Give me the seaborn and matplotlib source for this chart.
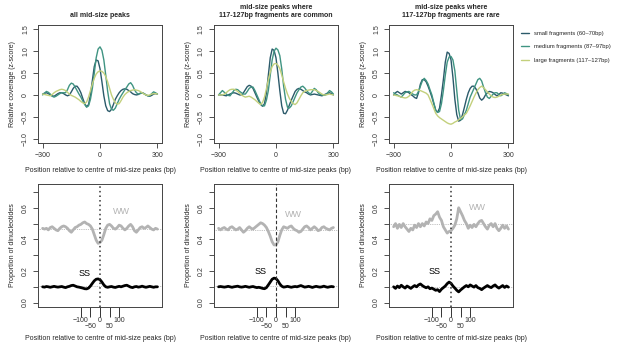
import numpy as np
import matplotlib
matplotlib.use("Agg")
import matplotlib.pyplot as plt
import seaborn as sns

# positions (bp), 10bp steps
pos = list(range(-300, 301, 10))

titles = ["all mid-size peaks",
          "mid-size peaks where\n117-127bp fragments are common",
          "mid-size peaks where\n117-127bp fragments are rare"]
legend_labels = ["small fragments (60\u201370bp)",
                 "medium fragments (87\u201397bp)",
                 "large fragments (117\u2013127bp)"]

# coverage, all mid-size peaks
all_small = [0.02, 0.04, 0.05, 0.03, 0.0, -0.02, -0.03, 0.0, 0.03, 0.05,
             0.05, 0.03, 0.0, -0.02, 0.0, 0.07, 0.15, 0.2, 0.2, 0.14,
             0.05, -0.08, -0.2, -0.27, -0.22, 0.0, 0.33, 0.65, 0.8, 0.78,
             0.6, 0.3, -0.02, -0.25, -0.36, -0.38, -0.33, -0.22, -0.1, -0.02,
             0.05, 0.1, 0.13, 0.14, 0.13, 0.1, 0.07, 0.03, 0.01, 0.0,
             0.01, 0.04, 0.05, 0.03, 0.0, -0.02, -0.03, -0.01, 0.02, 0.03, 0.02]
all_medium = [0.0, 0.04, 0.08, 0.06, 0.02, -0.03, -0.05, -0.03, 0.0, 0.03,
              0.05, 0.05, 0.05, 0.12, 0.22, 0.27, 0.25, 0.18, 0.1, 0.02,
              -0.05, -0.14, -0.22, -0.28, -0.25, -0.1, 0.15, 0.5, 0.85, 1.05,
              1.1, 1.02, 0.8, 0.45, 0.08, -0.2, -0.33, -0.35, -0.3, -0.2,
              -0.1, -0.02, 0.05, 0.12, 0.18, 0.25, 0.28, 0.22, 0.12, 0.05,
              0.02, 0.03, 0.05, 0.03, 0.0, -0.02, -0.02, 0.03, 0.07, 0.05, 0.02]
all_large = [0.02, 0.01, 0.0, -0.01, -0.02, 0.01, 0.05, 0.08, 0.1, 0.12,
             0.13, 0.12, 0.1, 0.06, 0.02, -0.01, -0.03, -0.05, -0.08, -0.11,
             -0.15, -0.18, -0.2, -0.16, -0.05, 0.1, 0.25, 0.38, 0.48, 0.53,
             0.55, 0.54, 0.5, 0.42, 0.3, 0.15, 0.0, -0.1, -0.18, -0.21,
             -0.2, -0.13, -0.05, 0.01, 0.05, 0.08, 0.1, 0.11, 0.12, 0.11,
             0.1, 0.08, 0.05, 0.02, 0.0, -0.01, 0.0, 0.02, 0.03, 0.03, 0.02]

# coverage, peaks where large fragments are common
com_small = [0.0, 0.0, 0.0, -0.01, -0.02, 0.0, 0.02, 0.04, 0.05, 0.04,
             0.02, 0.0, 0.0, 0.05, 0.12, 0.19, 0.22, 0.2, 0.15, 0.05,
             -0.05, -0.14, -0.22, -0.26, -0.2, 0.05, 0.45, 0.85, 1.05, 1.02,
             0.85, 0.5, 0.1, -0.25, -0.42, -0.43, -0.35, -0.23, -0.12, -0.02,
             0.08, 0.13, 0.15, 0.13, 0.1, 0.07, 0.05, 0.02, 0.0, 0.01,
             0.02, 0.01, 0.0, -0.01, -0.02, 0.0, 0.02, 0.04, 0.05, 0.03, 0.0]
com_medium = [0.0, 0.05, 0.1, 0.06, 0.02, -0.01, -0.02, 0.04, 0.1, 0.13,
              0.12, 0.08, 0.05, 0.02, 0.02, 0.08, 0.15, 0.18, 0.18, 0.1,
              0.0, -0.1, -0.2, -0.25, -0.25, -0.12, 0.1, 0.45, 0.8, 1.0,
              1.07, 1.03, 0.9, 0.6, 0.2, -0.1, -0.28, -0.3, -0.25, -0.15,
              -0.05, 0.05, 0.12, 0.18, 0.2, 0.16, 0.1, 0.05, 0.02, 0.08,
              0.15, 0.12, 0.05, 0.01, 0.0, -0.01, 0.0, 0.05, 0.1, 0.07, 0.02]
com_large = [0.0, 0.0, 0.0, 0.02, 0.05, 0.09, 0.12, 0.13, 0.13, 0.11,
             0.08, 0.04, 0.0, -0.03, -0.05, -0.04, -0.03, -0.05, -0.08, -0.11,
             -0.15, -0.19, -0.22, -0.17, -0.05, 0.14, 0.35, 0.52, 0.65, 0.71,
             0.72, 0.68, 0.6, 0.46, 0.3, 0.15, 0.02, -0.08, -0.15, -0.2,
             -0.22, -0.18, -0.1, -0.02, 0.05, 0.08, 0.1, 0.11, 0.12, 0.12,
             0.12, 0.1, 0.08, 0.05, 0.02, 0.0, 0.0, 0.01, 0.02, 0.01, 0.0]

# coverage, peaks where large fragments are rare
rare_small = [0.0, 0.05, 0.08, 0.05, 0.02, 0.05, 0.08, 0.07, 0.05, 0.01,
              -0.02, -0.06, -0.08, 0.05, 0.25, 0.35, 0.35, 0.3, 0.2, 0.08,
              -0.05, -0.2, -0.35, -0.4, -0.3, 0.0, 0.35, 0.75, 0.98, 0.95,
              0.8, 0.4, -0.1, -0.45, -0.6, -0.58, -0.45, -0.28, -0.1, 0.05,
              0.15, 0.2, 0.2, 0.14, 0.05, -0.07, -0.12, -0.08, 0.0, 0.05,
              0.08, 0.07, 0.05, 0.01, -0.02, 0.01, 0.05, 0.04, 0.02, 0.0, -0.02]
rare_medium = [0.05, 0.02, 0.0, -0.03, -0.05, 0.0, 0.05, 0.07, 0.08, 0.05,
               0.02, 0.0, 0.0, 0.08, 0.2, 0.32, 0.38, 0.33, 0.25, 0.12,
               0.0, -0.18, -0.35, -0.4, -0.38, -0.2, 0.1, 0.45, 0.75, 0.87,
               0.88, 0.8, 0.55, 0.1, -0.35, -0.57, -0.55, -0.45, -0.35, -0.2,
               -0.05, 0.05, 0.15, 0.25, 0.35, 0.38, 0.32, 0.18, 0.05, -0.05,
               -0.08, -0.03, 0.02, 0.05, 0.05, 0.01, -0.02, 0.01, 0.05, 0.03, 0.0]
rare_large = [0.0, -0.01, -0.02, -0.03, -0.05, -0.06, -0.07, -0.06, -0.03, 0.02,
              0.08, 0.11, 0.12, 0.11, 0.1, 0.08, 0.06, 0.04, 0.0, -0.1,
              -0.2, -0.31, -0.42, -0.48, -0.52, -0.55, -0.58, -0.61, -0.64, -0.66,
              -0.67, -0.65, -0.62, -0.6, -0.57, -0.54, -0.5, -0.46, -0.42, -0.34,
              -0.25, -0.15, -0.05, 0.04, 0.12, 0.17, 0.2, 0.17, 0.12, 0.07,
              0.02, -0.02, -0.05, -0.06, -0.05, -0.03, 0.0, 0.01, 0.02, 0.02, 0.02]

# dinucleotide proportions
ww_all = [0.47, 0.465, 0.47, 0.46, 0.475, 0.48, 0.47, 0.46, 0.455, 0.47, 0.48, 0.485, 0.48, 0.47, 0.455, 0.445,
          0.46, 0.475, 0.48, 0.49, 0.495, 0.505, 0.51, 0.5, 0.495, 0.485, 0.465, 0.43, 0.395, 0.375, 0.38,
          0.395, 0.43, 0.47, 0.49, 0.495, 0.485, 0.47, 0.465, 0.475, 0.49, 0.485, 0.47, 0.46, 0.47, 0.485,
          0.495, 0.48, 0.455, 0.445, 0.46, 0.475, 0.48, 0.47, 0.475, 0.485, 0.475, 0.465, 0.46, 0.47, 0.465]
ss_all = [0.1, 0.098, 0.102, 0.1, 0.097, 0.1, 0.103, 0.1, 0.098, 0.1, 0.102, 0.098, 0.095, 0.1, 0.103, 0.108,
          0.11, 0.105, 0.1, 0.098, 0.095, 0.092, 0.088, 0.087, 0.092, 0.105, 0.122, 0.138, 0.148, 0.15, 0.145,
          0.13, 0.112, 0.1, 0.097, 0.1, 0.102, 0.098, 0.096, 0.1, 0.103, 0.1, 0.104, 0.108, 0.11, 0.104,
          0.098, 0.095, 0.1, 0.102, 0.098, 0.1, 0.104, 0.1, 0.097, 0.1, 0.103, 0.1, 0.097, 0.1, 0.1]
ww_com = [0.47, 0.46, 0.47, 0.475, 0.465, 0.46, 0.475, 0.48, 0.47, 0.46, 0.465, 0.475, 0.46, 0.445, 0.455, 0.47,
          0.48, 0.47, 0.465, 0.475, 0.485, 0.495, 0.505, 0.5, 0.49, 0.475, 0.45, 0.42, 0.385, 0.365, 0.365,
          0.385, 0.425, 0.46, 0.48, 0.475, 0.47, 0.48, 0.485, 0.47, 0.46, 0.455, 0.445, 0.45, 0.465, 0.48,
          0.485, 0.475, 0.46, 0.47, 0.48, 0.47, 0.455, 0.46, 0.475, 0.48, 0.47, 0.465, 0.46, 0.47, 0.475]
ss_com = [0.1, 0.102, 0.1, 0.098, 0.1, 0.103, 0.1, 0.097, 0.1, 0.102, 0.104, 0.1, 0.098, 0.1, 0.103, 0.1,
          0.097, 0.1, 0.102, 0.098, 0.095, 0.097, 0.094, 0.09, 0.088, 0.095, 0.112, 0.13, 0.148, 0.155, 0.152,
          0.138, 0.118, 0.104, 0.098, 0.1, 0.103, 0.1, 0.097, 0.1, 0.102, 0.1, 0.104, 0.108, 0.103, 0.098,
          0.1, 0.103, 0.1, 0.096, 0.1, 0.103, 0.1, 0.098, 0.1, 0.104, 0.1, 0.097, 0.1, 0.102, 0.1]
ww_rare = [0.48, 0.5, 0.47, 0.495, 0.475, 0.5, 0.48, 0.465, 0.45, 0.47, 0.46, 0.49, 0.475, 0.5, 0.48, 0.5,
           0.485, 0.51, 0.5, 0.53, 0.52, 0.55, 0.56, 0.575, 0.54, 0.52, 0.48, 0.46, 0.44, 0.45, 0.455,
           0.47, 0.49, 0.53, 0.6, 0.575, 0.55, 0.52, 0.5, 0.47, 0.49, 0.475, 0.495, 0.48, 0.5, 0.515,
           0.52, 0.5, 0.48, 0.465, 0.49, 0.5, 0.48, 0.5, 0.47, 0.455, 0.47, 0.49, 0.47, 0.485, 0.465]
ss_rare = [0.1, 0.09, 0.105, 0.095, 0.11, 0.1, 0.092, 0.105, 0.098, 0.09, 0.1, 0.108, 0.1, 0.112, 0.118, 0.108,
           0.1, 0.094, 0.1, 0.088, 0.092, 0.085, 0.078, 0.082, 0.07, 0.085, 0.095, 0.105, 0.12, 0.13, 0.122,
           0.105, 0.092, 0.078, 0.068, 0.08, 0.09, 0.1, 0.108, 0.1, 0.112, 0.105, 0.098, 0.108, 0.095, 0.09,
           0.082, 0.092, 0.1, 0.108, 0.1, 0.095, 0.105, 0.112, 0.1, 0.092, 0.1, 0.108, 0.096, 0.105, 0.098]

cov_sets = [(all_small, all_medium, all_large),
            (com_small, com_medium, com_large),
            (rare_small, rare_medium, rare_large)]
din_sets = [(ww_all, ss_all), (ww_com, ss_com), (ww_rare, ss_rare)]

cov_ticks = [-1.0, -0.5, 0, 0.5, 1.0, 1.5]
cov_ticklabels = ["\u22121.0", "\u22120.5", "0", "0.5", "1.0", "1.5"]
din_ticks = [0.0, 0.1, 0.2, 0.3, 0.4, 0.5, 0.6, 0.7]
din_ticklabels = ["0.0", "", "0.2", "", "0.4", "", "0.6", ""]
pos_major = [-100, 0, 100]
pos_major_labels = ["\u2212100", "0", "100"]
pos_minor = [-50, 50]
pos_minor_labels = ["\u221250", "50"]

sns.set_style("ticks")
plt.rcParams['font.family'] = ['Liberation Sans', 'DejaVu Sans']

frag_colors = ["#2b5a6a", "#3f9482", "#c3d07c"]
ww_color = "#b3b3b3"
xlab = "Position relative to centre of mid-size peaks (bp)"
fs = 5.0

fig = plt.figure(figsize=(6.17, 3.45), dpi=100)
lefts = [0.0616, 0.3468, 0.6305]
w = 0.2010
ws_text = [(112, 0.575), (92, 0.56), (138, 0.6)]
ss_text = [(-83, 0.185), (-80, 0.2), (-87, 0.2)]
vline_style = [(0, (1, 2)), (0, (3, 2)), (0, (1, 2))]
vline_width = [1.1, 0.8, 1.1]

for i in range(3):
    ax = fig.add_axes([lefts[i], 0.5855, w, 0.342])
    for ys, c in zip(cov_sets[i], frag_colors):
        sns.lineplot(x=pos, y=ys, ax=ax, color=c, lw=1.0)
    ax.set_xlim(-324, 324)
    ax.set_ylim(-1.1, 1.6)
    ax.set_xticks([-300, 0, 300])
    ax.set_xticklabels(["\u2212300", "0", "300"])
    ax.set_yticks(cov_ticks)
    ax.set_yticklabels(cov_ticklabels, rotation=90, va="center")
    ax.tick_params(labelsize=fs, length=3.5, width=0.6, pad=3, colors="#333333")
    ax.set_ylabel("Relative coverage (z-score)", fontsize=fs, labelpad=4)
    ax.set_xlabel(xlab, fontsize=fs, labelpad=6)
    ax.set_title(titles[i], fontsize=5.0, fontweight="bold", pad=6)
    for s in ax.spines.values():
        s.set_linewidth(0.7)
        s.set_color("#444444")

    bx = fig.add_axes([lefts[i], 0.110, w, 0.3565])
    ww, ss = din_sets[i]
    bx.axhline(np.mean(ww), color="#888888", lw=0.5, ls=":", zorder=1)
    bx.axhline(np.mean(ss), color="#888888", lw=0.5, ls=":", zorder=1)
    sns.lineplot(x=pos, y=ww, ax=bx, color=ww_color, lw=2.0)
    sns.lineplot(x=pos, y=ss, ax=bx, color="black", lw=2.0)
    bx.axvline(0, color="#333333", lw=vline_width[i], ls=vline_style[i], zorder=3)
    bx.text(ws_text[i][0], ws_text[i][1], "WW", color=ww_color, fontsize=6.5, ha="center", va="center")
    bx.text(ss_text[i][0], ss_text[i][1], "SS", color="black", fontsize=6.5, ha="center", va="center")
    bx.set_xlim(-324, 324)
    bx.set_ylim(-0.028, 0.75)
    bx.set_yticks(din_ticks)
    bx.set_yticklabels(din_ticklabels, rotation=90, va="center")
    bx.set_xticks(pos_major)
    bx.set_xticklabels(pos_major_labels)
    bx.set_xticks(pos_minor, minor=True)
    bx.set_xticklabels(pos_minor_labels, minor=True)
    bx.tick_params(axis="y", labelsize=fs, length=3.5, width=0.6, pad=3, colors="#333333")
    bx.tick_params(axis="x", which="major", labelsize=fs, length=7, width=0.7, pad=0.5, colors="#333333")
    bx.tick_params(axis="x", which="minor", labelsize=fs, length=7, width=0.7, pad=4.5, colors="#333333")
    bx.set_ylabel("Proportion of dinucleotides", fontsize=fs, labelpad=4)
    bx.set_xlabel(xlab, fontsize=fs)
    bx.xaxis.set_label_coords(0.5, -0.225)
    for s in bx.spines.values():
        s.set_linewidth(0.7)
        s.set_color("#444444")

# legend on the right
handles = [plt.Line2D([], [], color=c, lw=1.0) for c in frag_colors]
fig.legend(handles, legend_labels, loc="upper left", bbox_to_anchor=(0.836, 0.925),
           frameon=False, fontsize=4.2, handlelength=1.3, labelspacing=1.4, handletextpad=0.9)

fig.savefig("out.png", dpi=100)
